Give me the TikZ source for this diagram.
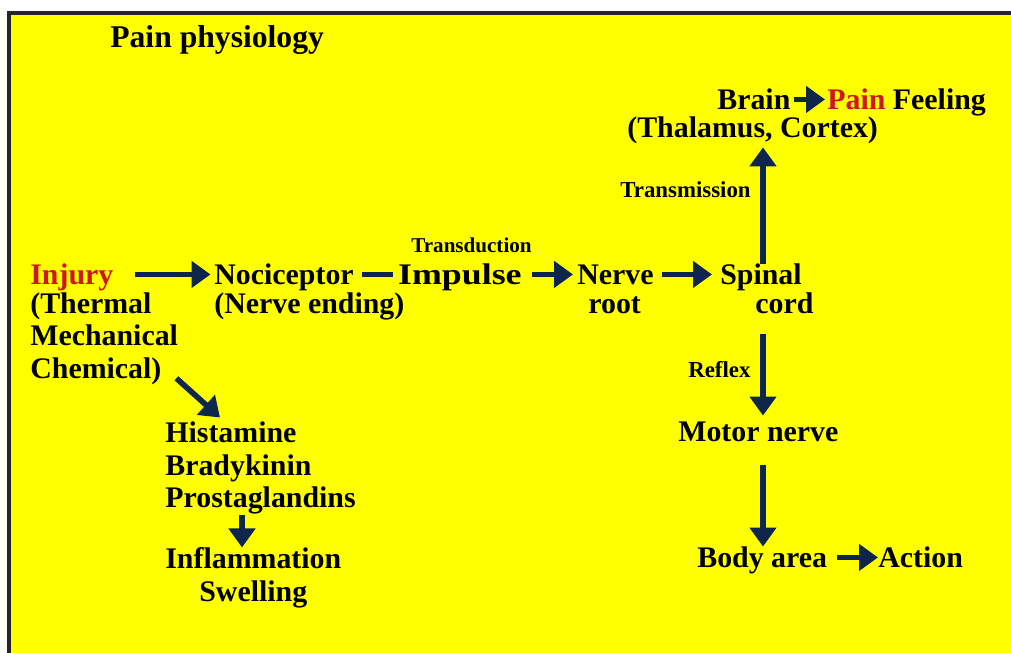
\documentclass[tikz,border=0pt]{standalone}
\usepackage{fontspec}
\setmainfont{Liberation Serif}
\definecolor{sun}{RGB}{255,255,0}
\definecolor{ink}{RGB}{14,38,74}
\definecolor{hurt}{RGB}{204,24,24}
\usetikzlibrary{arrows.meta}
\tikzset{
  word/.style={font=\fontsize{17}{18.5}\selectfont\bfseries, inner sep=0pt,
              text height=12pt, text depth=0pt, anchor=base west},
  words/.style={font=\fontsize{17}{18.5}\selectfont\bfseries, inner sep=0pt,
              align=left, anchor=north west},
  tag/.style={font=\fontsize{13}{14}\selectfont\bfseries, inner sep=0pt, anchor=base west},
  flow/.style={-{Triangle[length=3.8mm,width=5.2mm]}, ink, line width=3.2pt},
  bar/.style={ink, line width=3.2pt},
}
\begin{document}
\begin{tikzpicture}
    \useasboundingbox (0,0) rectangle (20.22,-13.06);
    \fill[white] (0,0) rectangle (20.22,-13.06);
    \fill[sun] (0.18,-0.26) rectangle (20.22,-13.06);
    \draw[black!85,line width=1.8pt] (0.18,-13.06) -- (0.18,-0.26) -- (20.22,-0.26);
    \node[word, font=\fontsize{18}{20}\selectfont\bfseries] (title) at (2.2,-0.96) {Pain physiology};
    \node[word, text=hurt] (inj) at (0.6,-5.7) {Injury};
    \node[words] (cause) at (0.6,-5.84) {(Thermal\\Mechanical\\Chemical)};
    \node[word] (noci) at (4.28,-5.7) {Nociceptor};
    \node[word] (noci2) at (4.28,-6.27) {(Nerve ending)};
    \node[word, anchor=base east] (imp) at (10.44,-5.7) {\scalebox{1.2}[1]{Impulse}};
    \node[tag, anchor=base east, font=\fontsize{12}{13}\selectfont\bfseries] (tduc) at (10.64,-5.06) {Transduction};
    \node[word] (nerve) at (11.54,-5.7) {Nerve};
    \node[word] (root) at (11.76,-6.27) {root};
    \node[word] (spinal) at (14.4,-5.7) {Spinal};
    \node[word] (cord) at (15.1,-6.27) {cord};
    \coordinate (colR) at (15.26,0);
    \coordinate (colL) at (4.84,0);
    \node[word] (brain) at (14.34,-2.2) {Brain};
    \node[word] (feel) at (16.54,-2.2) {{\color{hurt}Pain} Feeling};
    \node[word] (thal) at (12.54,-2.76) {(Thalamus, Cortex)};
    \node[tag] (trans) at (12.4,-3.96) {Transmission};
    \node[tag] (reflex) at (13.76,-7.56) {Reflex};
    \node[word] (motor) at (13.56,-8.84) {Motor nerve};
    \node[word] (body) at (13.94,-11.36) {Body area};
    \node[word] (action) at (17.56,-11.36) {Action};
    \node[words] (histo) at (3.3,-8.43) {Histamine\\Bradykinin\\Prostaglandins};
    \node[words, align=center] (infl) at (3.3,-10.95) {Inflammation\\Swelling};
    \draw[flow, shorten <=4.2mm, shorten >=0.7mm] (inj) -- (noci);
    \draw[bar, shorten <=1.6mm, shorten >=1mm] (noci) -- (imp);
    \draw[flow, shorten <=2mm, shorten >=0.8mm] (imp) -- (nerve);
    \draw[flow, shorten <=1.6mm, shorten >=1.6mm] (nerve) -- (spinal);
    \draw[flow, shorten >=1.8mm] (spinal.north -| colR) -- (thal.south -| colR);
    \draw[flow, shorten <=0.6mm, shorten >=0.4mm] (brain) -- (feel);
    \draw[flow, shorten <=4mm, shorten >=1mm] (cord.south -| colR) -- (motor.north -| colR);
    \draw[flow, shorten <=4.6mm] (motor.south -| colR) -- (body.north -| colR);
    \draw[flow, shorten <=2mm] (body) -- (action);
    \draw[flow] ([shift={(-0.04,0.13)}]cause.south east) -- ([shift={(1.1,0.08)}]histo.north west);
    \draw[flow, shorten <=0.1mm] (histo.south -| colL) -- (infl.north -| colL);
\end{tikzpicture}
\end{document}
